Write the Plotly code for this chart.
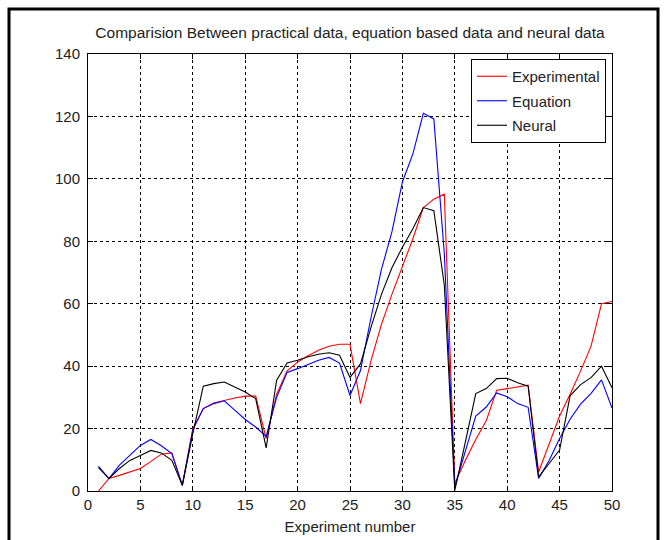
import plotly.graph_objects as go

experiment = list(range(1, 51))

experimental = [0, 4, 5, 6.2, 7.2, 9.5, 11.8, 12.2, 1.8, 20,
                26.4, 28.2, 29.1, 29.8, 30.4, 30.4, 16.8, 31, 38.5, 41.3,
                43.3, 45.1, 46.4, 47, 47, 28, 41.7, 53.4, 63, 72,
                80.8, 90.8, 93.5, 95.1, 2.4, 9.8, 16.5, 22.5, 32.3, 32.8,
                33.4, 33.9, 6.1, 15.2, 24, 31, 38.4, 46.4, 60, 60.7]

equation = [7.9, 4, 8.3, 11.4, 14.6, 16.5, 14.5, 12, 1.8, 19.5,
            26.4, 28, 28.9, 25.9, 22.9, 20.5, 17.5, 30, 38, 39.2,
            40.6, 41.9, 42.8, 41, 30.6, 38.6, 55.5, 71, 83, 99,
            108, 121, 119.2, 76, 1.3, 12.5, 24, 26.9, 31.4, 30.2,
            28, 26.8, 4, 9.8, 16.8, 23, 27.8, 31.3, 35.6, 26.6]

neural = [7.5, 4, 7.2, 9.8, 11.4, 13, 12.2, 9.8, 1.8, 18.4,
          33.6, 34.4, 34.9, 33.4, 31.7, 29.6, 13.8, 35.5, 41, 41.9,
          43, 43.8, 44.3, 43.5, 36.4, 40.7, 52.4, 63, 71.5, 78.1,
          84, 90.8, 89.8, 66, 0.2, 15.6, 31.2, 32.8, 36, 36.1,
          34.7, 33.6, 4.5, 8.8, 13.1, 30.5, 34.1, 36.3, 40, 33.1]

series_names = ["Experimental", "Equation", "Neural"]
series_colors = ["#ff0000", "#0000ff", "#000000"]

x_ticks = [0, 5, 10, 15, 20, 25, 30, 35, 40, 45, 50]
y_ticks = [0, 20, 40, 60, 80, 100, 120, 140]

FONT = "Liberation Sans, Arial, sans-serif"
FS = 15
TXT = "#222"

fig = go.Figure()
for name, vals, col in zip(series_names, [experimental, equation, neural], series_colors):
    fig.add_trace(go.Scatter(x=experiment, y=vals, mode="lines", name=name,
                             legendgroup=name,
                             line=dict(color=col, width=1.1)))

W, H = 665, 540
L, R, T, B = 88, 53, 54, 49
pw = W - L - R
ph = H - T - B

def px_x(p):
    return (p - L) / pw

def px_y(p):
    return (H - B - p) / ph

axis_common = dict(
    showline=True, linecolor="black", linewidth=1, mirror="ticks",
    ticks="inside", ticklen=5, tickcolor="black",
    showgrid=True, gridcolor="black", gridwidth=1, griddash="3px,3px",
    zeroline=False, automargin=False,
    tickfont=dict(family=FONT, size=FS, color=TXT),
)

fig.update_layout(
    width=W, height=H,
    margin=dict(l=L, r=R, t=T, b=B),
    paper_bgcolor="white", plot_bgcolor="white",
    font=dict(family=FONT, size=FS, color=TXT),
    title=dict(text="Comparision Between practical data, equation based data and neural data",
               x=0.5, xref="paper", xanchor="center",
               y=1 - 33 / H, yref="container", yanchor="middle",
               font=dict(family=FONT, size=15.5, color=TXT)),
    xaxis=dict(range=[0, 50], tickvals=x_ticks,
               title=dict(text="Experiment number", standoff=9,
                          font=dict(family=FONT, size=FS, color=TXT)),
               **axis_common),
    yaxis=dict(range=[0, 140], tickvals=y_ticks, ticklabelstandoff=4, **axis_common),
    legend=dict(x=px_x(606), y=px_y(59), xanchor="right", yanchor="top",
                bgcolor="white", bordercolor="black", borderwidth=1,
                font=dict(family=FONT, size=FS, color=TXT),
                tracegroupgap=2, itemwidth=30),
    showlegend=True,
    shapes=[dict(type="rect", xref="paper", yref="paper",
                 x0=px_x(9), x1=px_x(658), y0=px_y(560), y1=px_y(9),
                 line=dict(color="black", width=3), fillcolor="rgba(0,0,0,0)",
                 layer="above")],
)

fig.write_html("out.html")
